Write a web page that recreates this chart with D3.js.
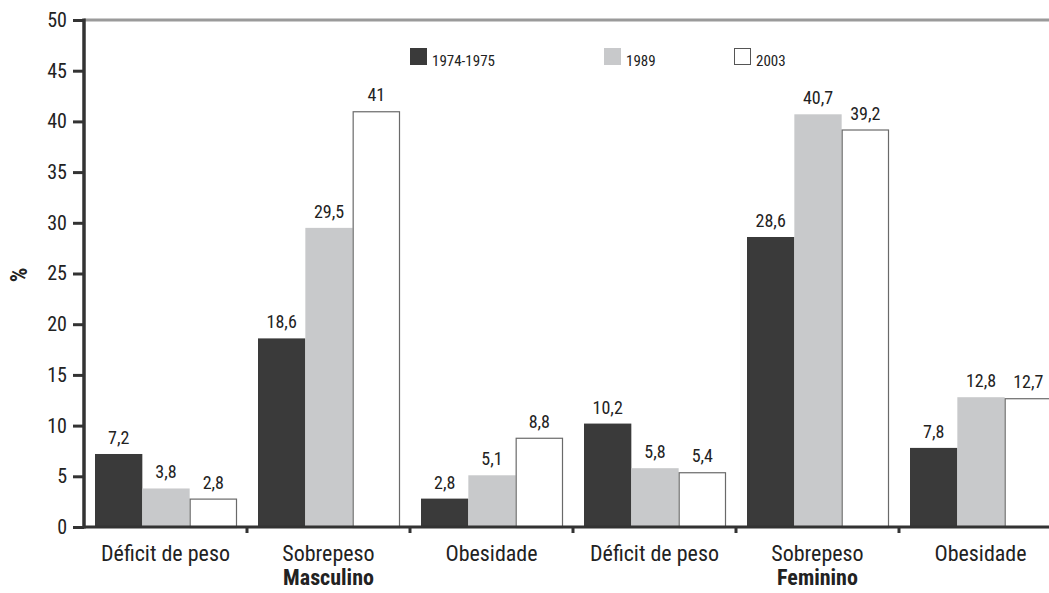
<!DOCTYPE html>
<html><head><meta charset="utf-8">
<script src="https://cdn.jsdelivr.net/npm/d3@7"></script>
<style>
body{margin:0;background:#fff;}
svg{display:block;font-family:"Liberation Sans Narrow","Roboto Condensed","Arial Narrow",Roboto,sans-serif;}
</style></head>
<body><svg id="c" width="1049" height="593"></svg>
<script>
const categories = ["Déficit de peso","Sobrepeso","Obesidade","Déficit de peso ","Sobrepeso ","Obesidade "];
const series = ["1974-1975","1989","2003"];
const v1974 = [7.2, 18.6, 2.8, 10.2, 28.6, 7.8];
const v1989 = [3.8, 29.5, 5.1, 5.8, 40.7, 12.8];
const v2003 = [2.8, 41, 8.8, 5.4, 39.2, 12.7];
const groups = [{name:"Masculino", cats:[0,1,2]},{name:"Feminino", cats:[3,4,5]}];
const yTicks = [0,5,10,15,20,25,30,35,40,45,50];
const colors = ["#3a3a3a","#c8c9cb","#ffffff"];

const svg = d3.select("#c");
const x0 = 84, y0 = 527, yTop = 20;
const x = d3.scaleBand().domain(categories).range([x0, x0 + 163*6]).padding(0);
const xs = d3.scaleBand().domain(series).range([11, 153]).padding(0);
const y = d3.scaleLinear().domain([0,50]).range([y0, yTop]);
const vals = [v1974, v1989, v2003];
const fmt = d => String(d).replace(".", ",");

// bars
series.forEach((s, si) => {
  svg.append("g").selectAll("rect").data(categories).join("rect")
    .attr("x", c => x(c) + xs(s) + (si===2?0.5:0))
    .attr("y", (c,i) => y(vals[si][i]) + (si===2?0.5:0))
    .attr("width", xs.bandwidth() - (si===2?1:0))
    .attr("height", (c,i) => y0 - y(vals[si][i]))
    .attr("fill", colors[si])
    .attr("stroke", si===2 ? "#6a6a6a" : "none")
    .attr("stroke-width", 1.2);
  svg.append("g").selectAll("text").data(categories).join("text")
    .attr("x", c => x(c) + xs(s) + xs.bandwidth()/2)
    .attr("y", (c,i) => y(vals[si][i]) - 10)
    .attr("text-anchor","middle")
    .attr("font-size", 18).attr("fill","#222")
    .text((c,i) => fmt(vals[si][i]));
});

// top gray line
svg.append("line").attr("x1", x0).attr("x2", 1049).attr("y1", yTop).attr("y2", yTop)
  .attr("stroke","#9a9a9a").attr("stroke-width",3);

// y axis
const ya = svg.append("g").attr("transform", `translate(${x0},0)`)
  .call(d3.axisLeft(y).tickValues(yTicks).tickSize(11).tickPadding(6).tickFormat(d => d));
ya.attr("font-family",null).attr("font-size",null);
ya.select(".domain").attr("stroke","#333").attr("stroke-width",3.5).attr("d", `M0,${yTop-1.5}V${y0+1.5}`);
ya.selectAll(".tick line").attr("stroke","#333").attr("stroke-width",3);
ya.selectAll(".tick text").attr("font-size",20).attr("fill","#222");

// x axis
const xa = svg.append("g").attr("transform", `translate(0,${y0})`)
  .call(d3.axisBottom(x).tickValues([]).tickSizeOuter(0));
xa.select(".domain").attr("stroke","#333").attr("stroke-width",3).attr("d", `M${x0},0H1049`);
svg.append("g").selectAll("line").data(categories.slice(1)).join("line")
  .attr("x1", c => x(c)).attr("x2", c => x(c)).attr("y1", y0).attr("y2", y0+6)
  .attr("stroke","#333").attr("stroke-width",3);
svg.append("g").selectAll("text").data(categories).join("text")
  .attr("x", c => x(c) + x.bandwidth()/2).attr("y", 561)
  .attr("text-anchor","middle").attr("font-size",22).attr("fill","#222")
  .text(c => c.trim());
svg.append("g").selectAll("text").data(groups).join("text")
  .attr("x", g => x(categories[g.cats[1]]) + x.bandwidth()/2).attr("y", 585)
  .attr("text-anchor","middle").attr("font-size",22).attr("font-weight","bold").attr("fill","#222")
  .text(g => g.name);

// y label
svg.append("text").attr("transform","translate(27,275) rotate(-90)")
  .attr("text-anchor","middle").attr("font-size",23).attr("font-weight","bold").attr("fill","#222").text("%");

// legend
const legX = [410, 604, 734];
series.forEach((s, i) => {
  svg.append("rect").attr("x", legX[i] + (i===2?0.5:0)).attr("y", 48 + (i===2?0.5:0))
    .attr("width", 17 - (i===2?1:0)).attr("height", 17 - (i===2?1:0))
    .attr("fill", colors[i]).attr("stroke", i===2 ? "#555" : "none").attr("stroke-width",1);
  svg.append("text").attr("x", legX[i] + 22).attr("y", 66).attr("font-size",15).attr("fill","#222").text(s);
});
</script></body></html>
